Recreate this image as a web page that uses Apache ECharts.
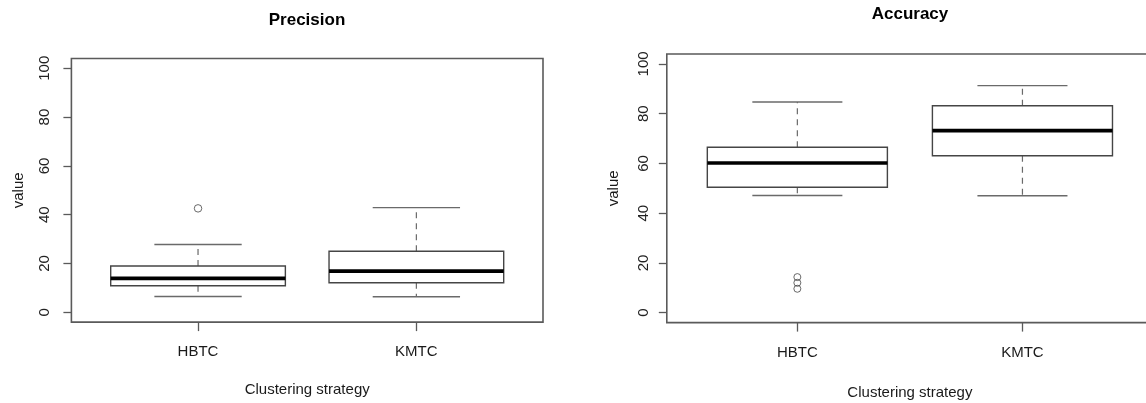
<!DOCTYPE html>
<html>
<head>
<meta charset="utf-8">
<script src="https://cdn.jsdelivr.net/npm/echarts@6/dist/echarts.min.js"></script>
<style>
html,body{margin:0;padding:0;background:#fff;}
#chart{width:1146px;height:403px;}
</style>
</head>
<body>
<div id="chart"></div>
<script>
// ---- data ----
const categories = ['HBTC', 'KMTC'];
// [low whisker, Q1, median, Q3, high whisker]
const precisionStats = [
  [6.5, 10.9, 13.9, 19.0, 27.8],
  [6.4, 12.1, 16.9, 25.0, 42.9]
];
const precisionOutliers = [[0, 42.6]];          // [category index, value]
const accuracyStats = [
  [47.1, 50.4, 60.2, 66.5, 84.7],
  [47.0, 63.1, 73.2, 83.2, 91.3]
];
const accuracyOutliers = [[0, 9.6], [0, 12.0], [0, 14.3]];
const yTicks = [0, 20, 40, 60, 80, 100];
const xTicks = [1, 2];

// ---- styling ----
const FONT = "'Liberation Sans', Arial, Helvetica, sans-serif";
const FRAME = '#5a5a5a';
const BOXC = '#454545';
const WHISK = '#6a6a6a';

function boxData(stats) {
  return stats.map((s, i) => [i + 1].concat(s));
}
function outlierData(o) {
  return o.map(d => [d[0] + 1, d[1]]);
}

function renderBox(params, api) {
  const x = api.value(0);
  const low = api.coord([x, api.value(1)]);
  const q1 = api.coord([x, api.value(2)]);
  const med = api.coord([x, api.value(3)]);
  const q3 = api.coord([x, api.value(4)]);
  const high = api.coord([x, api.value(5)]);
  const cx = low[0];
  const hb = api.size([0.4, 0])[0];
  const hc = api.size([0.2, 0])[0];
  const dash = {stroke: WHISK, lineWidth: 1.2, lineDash: [6, 5]};
  const solid = {stroke: WHISK, lineWidth: 1.4};
  return {
    type: 'group',
    children: [
      {type: 'line', shape: {x1: cx, y1: q3[1], x2: cx, y2: high[1]}, style: dash},
      {type: 'line', shape: {x1: cx, y1: q1[1], x2: cx, y2: low[1]}, style: dash},
      {type: 'line', shape: {x1: cx - hc, y1: high[1], x2: cx + hc, y2: high[1]}, style: solid},
      {type: 'line', shape: {x1: cx - hc, y1: low[1], x2: cx + hc, y2: low[1]}, style: solid},
      {type: 'rect', shape: {x: cx - hb, y: q3[1], width: 2 * hb, height: q1[1] - q3[1]},
        style: {fill: '#fff', stroke: BOXC, lineWidth: 1.4}},
      {type: 'line', shape: {x1: cx - hb, y1: med[1], x2: cx + hb, y2: med[1]},
        style: {stroke: '#000', lineWidth: 3.6}}
    ]
  };
}

function xAxis(idx, labelMargin, nameGap) {
  return {
    type: 'value', gridIndex: idx, min: 0.42, max: 2.58,
    axisLine: {show: false, onZero: false},
    splitLine: {show: false},
    axisTick: {show: true, customValues: xTicks, length: 9, lineStyle: {color: FRAME, width: 1.3}},
    axisLabel: {
      customValues: xTicks,
      formatter: v => categories[Math.round(v) - 1],
      margin: labelMargin, fontSize: 15, color: '#1a1a1a', fontFamily: FONT
    },
    name: 'Clustering strategy', nameLocation: 'middle', nameGap: nameGap,
    nameTextStyle: {fontSize: 15, color: '#1a1a1a', fontFamily: FONT}
  };
}
function yAxis(idx, labelMargin, nameGap) {
  return {
    type: 'value', gridIndex: idx, min: -4, max: 104,
    axisLine: {show: false, onZero: false},
    splitLine: {show: false},
    axisTick: {show: true, customValues: yTicks, length: 8, lineStyle: {color: FRAME, width: 1.3}},
    axisLabel: {
      customValues: yTicks, rotate: 90,
      margin: labelMargin, fontSize: 15, color: '#222', fontFamily: FONT
    },
    name: 'value', nameLocation: 'middle', nameRotate: 90, nameGap: nameGap,
    nameTextStyle: {fontSize: 15, color: '#1a1a1a', fontFamily: FONT}
  };
}

const chart = echarts.init(document.getElementById('chart'), null, {renderer: 'canvas'});
chart.setOption({
  animation: false,
  backgroundColor: '#fff',
  graphic: [
    {type: 'text', x: 307, y: 20,
      style: {text: 'Precision', align: 'center', verticalAlign: 'middle', textAlign: 'center', textVerticalAlign: 'middle',
        font: 'bold 17px ' + FONT, fill: '#000'}},
    {type: 'text', x: 910, y: 14,
      style: {text: 'Accuracy', align: 'center', verticalAlign: 'middle', textAlign: 'center', textVerticalAlign: 'middle',
        font: 'bold 17px ' + FONT, fill: '#000'}}
  ],
  grid: [
    {left: 71.4, right: 603, top: 58.5, bottom: 80.9, show: true, borderColor: FRAME, borderWidth: 1.6,
      backgroundColor: 'transparent', containLabel: false, outerBoundsMode: 'none'},
    {left: 666.8, right: -7, top: 54, bottom: 80.4, show: true, borderColor: FRAME, borderWidth: 1.6,
      backgroundColor: 'transparent', containLabel: false, outerBoundsMode: 'none'}
  ],
  xAxis: [xAxis(0, 22.5, 60), xAxis(1, 23, 62.5)],
  yAxis: [yAxis(0, 19.5, 45.5), yAxis(1, 15.5, 45.5)],
  series: [
    {type: 'custom', xAxisIndex: 0, yAxisIndex: 0, data: boxData(precisionStats),
      encode: {x: 0, y: [1, 2, 3, 4, 5]}, renderItem: renderBox, clip: false},
    {type: 'scatter', xAxisIndex: 0, yAxisIndex: 0, data: outlierData(precisionOutliers),
      symbol: 'circle', symbolSize: 7.5,
      itemStyle: {color: 'rgba(0,0,0,0)', borderColor: BOXC, borderWidth: 1}},
    {type: 'custom', xAxisIndex: 1, yAxisIndex: 1, data: boxData(accuracyStats),
      encode: {x: 0, y: [1, 2, 3, 4, 5]}, renderItem: renderBox, clip: false},
    {type: 'scatter', xAxisIndex: 1, yAxisIndex: 1, data: outlierData(accuracyOutliers),
      symbol: 'circle', symbolSize: 7,
      itemStyle: {color: 'rgba(0,0,0,0)', borderColor: BOXC, borderWidth: 1}}
  ]
});
</script>
</body>
</html>
